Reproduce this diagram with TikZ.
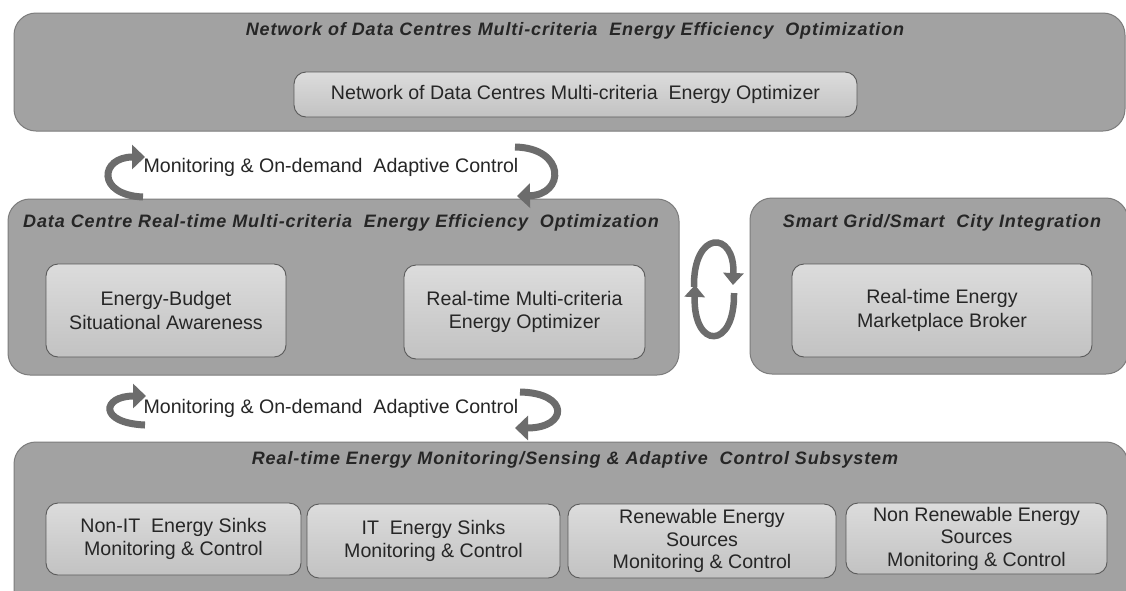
\documentclass[tikz,border=0pt]{standalone}
\usepackage{fontspec}
\setmainfont{Liberation Sans}
\usetikzlibrary{arrows.meta}
\definecolor{panelfill}{HTML}{A2A2A2}
\definecolor{paneledge}{HTML}{7C7C7C}
\definecolor{boxtop}{HTML}{DCDCDC}
\definecolor{boxbottom}{HTML}{C2C2C2}
\definecolor{boxedge}{HTML}{5A5A5A}
\definecolor{arrowgray}{HTML}{6C6C6C}
\definecolor{inkgray}{HTML}{262626}
\tikzset{
  panel/.style={draw=paneledge, fill=panelfill, line width=1pt, rounded corners=22pt, inner sep=0pt},
  unit/.style={draw=boxedge, line width=0.9pt, rounded corners=12pt, top color=boxtop, bottom color=boxbottom,
    align=center, text=inkgray, font=\fontsize{19.6}{23.5}\selectfont, inner sep=0pt},
  paneltitle/.style={text=inkgray, font=\fontsize{18}{21}\selectfont\bfseries\itshape\addfontfeatures{LetterSpace=5}, inner sep=0pt},
  flowlabel/.style={text=inkgray, font=\fontsize{19.6}{22}\selectfont, inner sep=0pt},
  turnarrow/.style={draw=arrowgray, line width=7pt, -{Triangle[width=24pt,length=13pt]}},
}
\begin{document}
\begin{tikzpicture}[x=1pt,y=-1pt]
\useasboundingbox (0,0) rectangle (1126,590);
\clip (0,0) rectangle (1126,590);
\fill[white] (0,0) rectangle (1126,590);

% network level
\node[panel, minimum width=1111pt, minimum height=118pt] (netpanel) at (569.5,72) {};
\node[paneltitle] (nettitle) at (575,31) {Network of Data Centres Multi-criteria\ \ Energy Efficiency\ \ Optimization};
\node[unit, minimum width=563pt, minimum height=45pt] (netopt) at (575.5,94.5) {Network of Data Centres Multi-criteria\ \ Energy Optimizer};

% data centre level
\node[panel, minimum width=671pt, minimum height=176pt] (dcpanel) at (343.5,287) {};
\node[paneltitle] (dctitle) at (341,223) {Data Centre Real-time Multi-criteria\ \ Energy Efficiency\ \ Optimization};
\node[unit, minimum width=240pt, minimum height=93pt] (budget) at (166,310.5) {Energy-Budget\\Situational Awareness};
\node[unit, minimum width=241pt, minimum height=94pt] (rtopt) at (524.5,312) {Real-time Multi-criteria\\Energy Optimizer};

% smart grid level
\node[panel, minimum width=378pt, minimum height=176pt] (gridpanel) at (939,286) {};
\node[paneltitle] (gridtitle) at (942,223) {Smart Grid/Smart\ \ City Integration};
\node[unit, minimum width=300pt, minimum height=93pt] (broker) at (942,310.5) {Real-time Energy\\Marketplace Broker};

% monitoring subsystem
\node[panel, minimum width=1114pt, minimum height=170pt] (monpanel) at (571,527) {};
\node[paneltitle] (montitle) at (575,460) {Real-time Energy Monitoring/Sensing \& Adaptive\ \ Control Subsystem};
\node[unit, minimum width=255pt, minimum height=72pt] (nonit) at (173.5,539) {Non-IT\ \ Energy Sinks\\Monitoring \& Control};
\node[unit, minimum width=253pt, minimum height=74pt] (itsinks) at (433.5,541) {IT\ \ Energy Sinks\\Monitoring \& Control};
\node[unit, minimum width=268pt, minimum height=74pt, font=\fontsize{19.6}{22.5}\selectfont] (renew) at (702,541) {Renewable Energy\\Sources\\Monitoring \& Control};
\node[unit, minimum width=261pt, minimum height=71pt, font=\fontsize{19.6}{22.5}\selectfont] (nonrenew) at (976.5,538.5) {Non Renewable Energy\\Sources\\Monitoring \& Control};

% exchanges between levels
\node[flowlabel] (flowup) at (331,167) {Monitoring \& On-demand\ \ Adaptive Control};
\node[flowlabel] (flowdown) at (331,408) {Monitoring \& On-demand\ \ Adaptive Control};

\draw[turnarrow] (143,197) .. controls (96,195) and (100,157) .. (145,157);
\draw[turnarrow] (515,147) .. controls (566,148) and (565,195) .. (517,196);
\draw[turnarrow] (145,425) .. controls (98,423) and (102,396) .. (146,396);
\draw[turnarrow] (520,392) .. controls (570,393) and (568,428) .. (515,428);

% data centre <-> smart grid
\draw[turnarrow, line width=6.5pt, -{Triangle[width=20pt,length=12pt]}] (694,287) .. controls (693,230) and (735,230) .. (733,285);
\draw[turnarrow, line width=6.5pt, -{Triangle[width=20pt,length=12pt]}] (734,293) .. controls (735,350) and (693,350) .. (695,285);
\end{tikzpicture}
\end{document}
